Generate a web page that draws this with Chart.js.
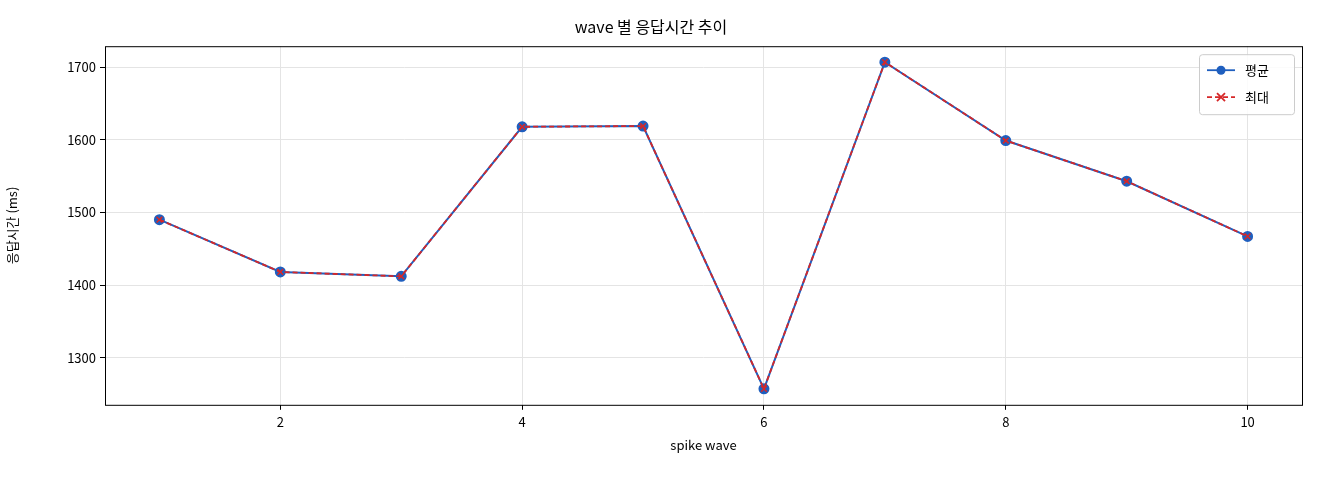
<!DOCTYPE html>
<html><head><meta charset="utf-8">
<script src="https://cdn.jsdelivr.net/npm/chart.js@4/dist/chart.umd.min.js"></script>
<style>html,body{margin:0;padding:0;background:#fff}#w{width:1320px;height:480px}</style>
</head><body><div id="w"><canvas id="c"></canvas></div>
<script>
const waves = [1,2,3,4,5,6,7,8,9,10];
const avgMs = [1490,1418,1412,1618,1619,1257,1707,1599,1543,1467];
const maxMs = [1490,1418,1412,1618,1619,1257,1707,1599,1543,1467];
const xTicks = [2,4,6,8,10];
const yTicks = [1300,1400,1500,1600,1700];
const F = "'Noto Sans CJK KR', 'DejaVu Sans', sans-serif";
const frame = {
  id:'frame',
  afterDraw(ch){
    const a=ch.chartArea,c=ch.ctx;
    c.save();c.strokeStyle='#000';c.lineWidth=1;
    c.strokeRect(a.left+0.5,a.top+0.5,a.right-a.left,a.bottom-a.top);
    const lx=a.right-103, ly=a.top+8, w=95, h=60;
    c.fillStyle='rgba(255,255,255,0.85)';c.strokeStyle='#ccc';
    c.beginPath();c.roundRect(lx+0.5,ly+0.5,w,h,3);c.fill();c.stroke();
    c.font="13px "+F;c.textBaseline='middle';
    let y=ly+16;
    c.strokeStyle='#1f5fbf';c.lineWidth=1.8;c.setLineDash([]);
    c.beginPath();c.moveTo(lx+8,y);c.lineTo(lx+36,y);c.stroke();
    c.fillStyle='#1f5fbf';c.beginPath();c.arc(lx+22,y,4.5,0,Math.PI*2);c.fill();
    c.fillStyle='#000';c.fillText('평균',lx+46,y);
    y=ly+43;
    c.strokeStyle='#d62728';c.setLineDash([5,3]);
    c.beginPath();c.moveTo(lx+8,y);c.lineTo(lx+36,y);c.stroke();c.setLineDash([]);
    c.beginPath();c.moveTo(lx+18,y-4);c.lineTo(lx+26,y+4);c.moveTo(lx+26,y-4);c.lineTo(lx+18,y+4);c.stroke();
    c.fillStyle='#000';c.fillText('최대',lx+46,y);
    c.restore();
  }
};
new Chart(document.getElementById('c'),{
  type:'line',
  data:{datasets:[
    {label:'평균',order:1,data:waves.map((x,i)=>({x,y:avgMs[i]})),borderColor:'#1f5fbf',backgroundColor:'#1f5fbf',borderWidth:2,pointRadius:4.5,pointStyle:'circle'},
    {label:'최대',order:0,data:waves.map((x,i)=>({x,y:maxMs[i]})),borderColor:'#d62728',backgroundColor:'#d62728',borderWidth:1.8,borderDash:[5,3],pointRadius:4,pointStyle:'crossRot',pointBorderWidth:1.5}
  ]},
  options:{
    responsive:true,maintainAspectRatio:false,animation:false,
    layout:{padding:{left:0,right:18,top:3,bottom:23}},
    plugins:{legend:{display:false},tooltip:{enabled:false},
      title:{display:true,text:'wave 별 응답시간 추이',color:'#000',font:{family:F,size:16,weight:'normal'},padding:{top:14,bottom:10}}},
    scales:{
      x:{type:'linear',min:0.55,max:10.45,
        afterBuildTicks:s=>{s.ticks=xTicks.map(v=>({value:v}))},
        grid:{color:'#e4e4e4',drawTicks:true,tickColor:'#000',tickLength:5},border:{display:false},
        ticks:{color:'#000',font:{family:F,size:13},padding:4,callback:v=>String(v)},
        title:{display:true,text:'spike wave',color:'#000',font:{family:F,size:13},padding:{top:4}}},
      y:{min:1235,max:1729,
        afterBuildTicks:s=>{s.ticks=yTicks.map(v=>({value:v}))},
        afterFit:s=>{s.width=105},
        grid:{color:'#e4e4e4',tickColor:'#000',tickLength:5},border:{display:false},
        ticks:{color:'#000',font:{family:F,size:13},padding:4,callback:v=>String(v)},
        title:{display:true,text:'응답시간 (ms)',color:'#000',font:{family:F,size:13},padding:{bottom:8}}}
    }
  },
  plugins:[frame]
});
</script></body></html>
